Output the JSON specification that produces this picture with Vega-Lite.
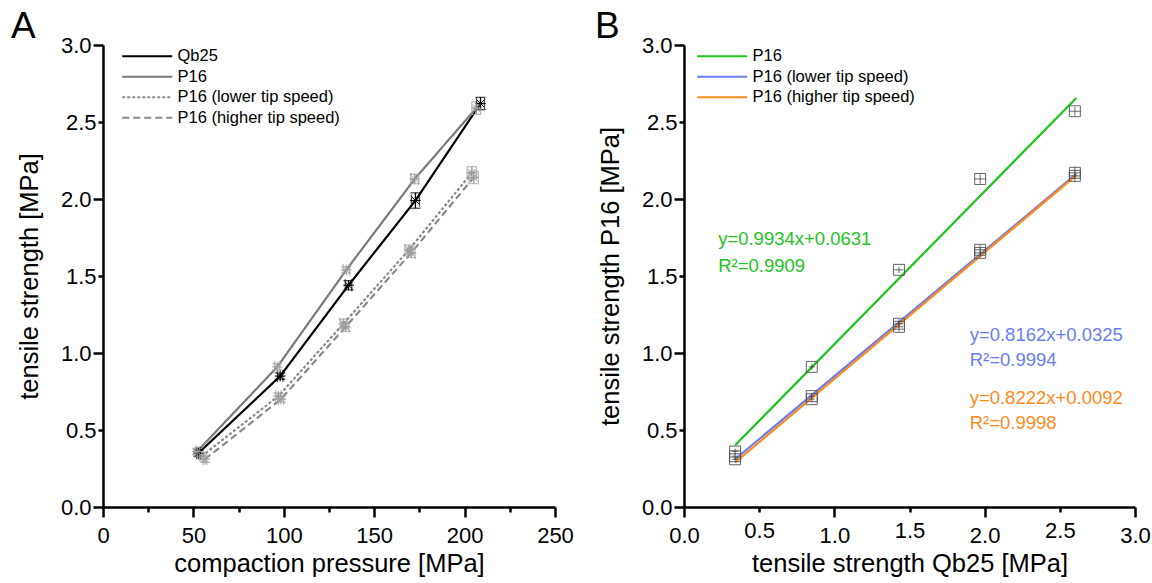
{
  "$schema": "https://vega.github.io/schema/vega-lite/v6.json",
  "background": "white",
  "padding": {"left": 11, "top": 8, "right": 0, "bottom": 0},
  "spacing": 21,
  "resolve": {"scale": {"color": "independent", "strokeDash": "independent"}, "legend": {"color": "independent", "strokeDash": "independent"}},
  "config": {
    "font": "Liberation Sans",
    "view": {"stroke": null},
    "axis": {
      "grid": false,
      "labelFlush": false,
      "domainColor": "black",
      "domainWidth": 2.5,
      "tickColor": "black",
      "tickWidth": 2.5,
      "labelFont": "Liberation Sans",
      "labelFontSize": 22,
      "labelColor": "black",
      "titleFont": "Liberation Sans",
      "titleFontSize": 25.5,
      "titleFontWeight": "normal",
      "titleColor": "black"
    },
    "legend": {
      "orient": "none",
      "symbolType": "M-5,0L5,0",
      "symbolSize": 100,
      "symbolStrokeWidth": 2,
      "labelFont": "Liberation Sans",
      "labelFontSize": 16.5,
      "labelColor": "black",
      "labelLimit": 400,
      "labelOffset": 22,
      "rowPadding": 3.5,
      "padding": 0,
      "title": null
    },
    "title": {"font": "Liberation Sans", "fontSize": 37, "fontWeight": "normal", "color": "black", "anchor": "start", "frame": "group"}
  },
  "hconcat": [
    {
      "width": 452,
      "height": 462,
      "title": {"text": "A", "dx": -92, "offset": -12},
      "data": {"values": [
        {"series": "Qb25", "p": 52.8, "plo": 51.8, "phi": 53.8, "ts": 0.35, "tlo": 0.33, "thi": 0.37},
        {"series": "Qb25", "p": 98.0, "plo": 96.5, "phi": 99.5, "ts": 0.85, "tlo": 0.83, "thi": 0.87},
        {"series": "Qb25", "p": 135.8, "plo": 134.0, "phi": 137.6, "ts": 1.44, "tlo": 1.41, "thi": 1.47},
        {"series": "Qb25", "p": 172.8, "plo": 170.6, "phi": 175.0, "ts": 1.99, "tlo": 1.94, "thi": 2.04},
        {"series": "Qb25", "p": 208.8, "plo": 206.6, "phi": 211.0, "ts": 2.62, "tlo": 2.58, "thi": 2.66},
        {"series": "P16", "p": 52.0, "plo": 51.0, "phi": 53.0, "ts": 0.36, "tlo": 0.34, "thi": 0.38},
        {"series": "P16", "p": 96.4, "plo": 94.9, "phi": 97.9, "ts": 0.91, "tlo": 0.89, "thi": 0.93},
        {"series": "P16", "p": 134.6, "plo": 132.8, "phi": 136.4, "ts": 1.54, "tlo": 1.52, "thi": 1.56},
        {"series": "P16", "p": 172.4, "plo": 170.2, "phi": 174.6, "ts": 2.13, "tlo": 2.10, "thi": 2.16},
        {"series": "P16", "p": 206.4, "plo": 204.0, "phi": 208.8, "ts": 2.59, "tlo": 2.55, "thi": 2.63},
        {"series": "P16 (lower tip speed)", "p": 54.6, "plo": 53.6, "phi": 55.6, "ts": 0.33, "tlo": 0.31, "thi": 0.35},
        {"series": "P16 (lower tip speed)", "p": 97.0, "plo": 95.5, "phi": 98.5, "ts": 0.72, "tlo": 0.70, "thi": 0.74},
        {"series": "P16 (lower tip speed)", "p": 133.0, "plo": 131.2, "phi": 134.8, "ts": 1.19, "tlo": 1.16, "thi": 1.22},
        {"series": "P16 (lower tip speed)", "p": 169.2, "plo": 167.0, "phi": 171.4, "ts": 1.67, "tlo": 1.64, "thi": 1.70},
        {"series": "P16 (lower tip speed)", "p": 204.0, "plo": 201.4, "phi": 206.6, "ts": 2.17, "tlo": 2.13, "thi": 2.21},
        {"series": "P16 (higher tip speed)", "p": 56.4, "plo": 55.4, "phi": 57.4, "ts": 0.31, "tlo": 0.29, "thi": 0.33},
        {"series": "P16 (higher tip speed)", "p": 98.4, "plo": 96.9, "phi": 99.9, "ts": 0.70, "tlo": 0.68, "thi": 0.72},
        {"series": "P16 (higher tip speed)", "p": 134.2, "plo": 132.4, "phi": 136.0, "ts": 1.17, "tlo": 1.14, "thi": 1.20},
        {"series": "P16 (higher tip speed)", "p": 170.4, "plo": 168.2, "phi": 172.6, "ts": 1.65, "tlo": 1.62, "thi": 1.68},
        {"series": "P16 (higher tip speed)", "p": 205.0, "plo": 202.4, "phi": 207.6, "ts": 2.14, "tlo": 2.10, "thi": 2.18}
      ]},
      "layer": [
        {
          "mark": {"type": "line", "strokeWidth": 2.2},
          "encoding": {
            "x": {"field": "p", "type": "quantitative", "title": "compaction pressure [MPa]",
              "scale": {"domain": [0, 250], "nice": false},
              "axis": {"values": [0, 25, 50, 75, 100, 125, 150, 175, 200, 225, 250],
                "labelExpr": "datum.value % 50 === 0 ? datum.label : ''",
                "tickSize": {"condition": {"test": "datum.value % 50 === 0", "value": 10}, "value": 5},
                "labelPadding": 8, "titlePadding": 5}},
            "y": {"field": "ts", "type": "quantitative", "title": "tensile strength [MPa]",
              "scale": {"domain": [0, 3], "nice": false},
              "axis": {"values": [0, 0.5, 1, 1.5, 2, 2.5, 3], "format": ".1f",
                "tickSize": {"condition": {"test": "datum.value % 1 === 0", "value": 10}, "value": 5},
                "labelPadding": 2, "titlePadding": 18}},
            "color": {"field": "series", "type": "nominal",
              "scale": {"domain": ["Qb25", "P16", "P16 (lower tip speed)", "P16 (higher tip speed)"],
                "range": ["#000000", "#7a7a7a", "#8a8a8a", "#8a8a8a"]},
              "legend": {"legendX": 36, "legendY": 3}},
            "strokeDash": {"field": "series", "type": "nominal",
              "scale": {"domain": ["Qb25", "P16", "P16 (lower tip speed)", "P16 (higher tip speed)"],
                "range": [[1, 0], [1, 0], [3, 2], [7, 4]]},
              "legend": {"legendX": 36, "legendY": 3}}
          }
        },
        {
          "mark": {"type": "rule", "strokeWidth": 1.3},
          "encoding": {
            "x": {"field": "p", "type": "quantitative", "title": "compaction pressure [MPa]"},
            "y": {"field": "tlo", "type": "quantitative", "title": "tensile strength [MPa]"},
            "y2": {"field": "thi"},
            "color": {"condition": {"test": "datum.series === 'Qb25'", "value": "#000000"}, "value": "#a0a0a0"}
          }
        },
        {
          "mark": {"type": "tick", "orient": "horizontal", "size": 10, "thickness": 1.3},
          "encoding": {
            "x": {"field": "p", "type": "quantitative", "title": "compaction pressure [MPa]"},
            "y": {"field": "tlo", "type": "quantitative", "title": "tensile strength [MPa]"},
            "color": {"condition": {"test": "datum.series === 'Qb25'", "value": "#000000"}, "value": "#a0a0a0"}
          }
        },
        {
          "mark": {"type": "tick", "orient": "horizontal", "size": 10, "thickness": 1.3},
          "encoding": {
            "x": {"field": "p", "type": "quantitative", "title": "compaction pressure [MPa]"},
            "y": {"field": "thi", "type": "quantitative", "title": "tensile strength [MPa]"},
            "color": {"condition": {"test": "datum.series === 'Qb25'", "value": "#000000"}, "value": "#a0a0a0"}
          }
        },
        {
          "mark": {"type": "rule", "strokeWidth": 1.3},
          "encoding": {
            "x": {"field": "plo", "type": "quantitative", "title": "compaction pressure [MPa]"},
            "x2": {"field": "phi"},
            "y": {"field": "ts", "type": "quantitative", "title": "tensile strength [MPa]"},
            "color": {"condition": {"test": "datum.series === 'Qb25'", "value": "#000000"}, "value": "#a0a0a0"}
          }
        },
        {
          "mark": {"type": "tick", "orient": "vertical", "size": 12, "thickness": 1.3},
          "encoding": {
            "x": {"field": "plo", "type": "quantitative", "title": "compaction pressure [MPa]"},
            "y": {"field": "ts", "type": "quantitative", "title": "tensile strength [MPa]"},
            "color": {"condition": {"test": "datum.series === 'Qb25'", "value": "#000000"}, "value": "#a0a0a0"}
          }
        },
        {
          "mark": {"type": "tick", "orient": "vertical", "size": 12, "thickness": 1.3},
          "encoding": {
            "x": {"field": "phi", "type": "quantitative", "title": "compaction pressure [MPa]"},
            "y": {"field": "ts", "type": "quantitative", "title": "tensile strength [MPa]"},
            "color": {"condition": {"test": "datum.series === 'Qb25'", "value": "#000000"}, "value": "#a0a0a0"}
          }
        },
        {
          "mark": {"type": "point", "shape": "M-1,0L1,0M0,-1L0,1M-0.7,-0.7L0.7,0.7M-0.7,0.7L0.7,-0.7", "filled": false, "size": 110, "strokeWidth": 1, "opacity": 1},
          "encoding": {
            "x": {"field": "p", "type": "quantitative", "title": "compaction pressure [MPa]"},
            "y": {"field": "ts", "type": "quantitative", "title": "tensile strength [MPa]"},
            "color": {"condition": {"test": "datum.series === 'Qb25'", "value": "#000000"}, "value": "#a0a0a0"}
          }
        }
      ]
    },
    {
      "width": 451,
      "height": 462,
      "title": {"text": "B", "dx": -89, "offset": -12},
      "layer": [
        {
          "data": {"values": [
            {"series": "P16", "q": 0.34, "r": 0.401},
            {"series": "P16", "q": 2.61, "r": 2.656},
            {"series": "P16 (lower tip speed)", "q": 0.34, "r": 0.310},
            {"series": "P16 (lower tip speed)", "q": 2.61, "r": 2.163},
            {"series": "P16 (higher tip speed)", "q": 0.34, "r": 0.289},
            {"series": "P16 (higher tip speed)", "q": 2.61, "r": 2.155}
          ]},
          "mark": {"type": "line", "strokeWidth": 2.2},
          "encoding": {
            "x": {"field": "q", "type": "quantitative", "title": "tensile strength Qb25 [MPa]",
              "scale": {"domain": [0, 3], "nice": false},
              "axis": {"values": [0, 0.5, 1, 1.5, 2, 2.5, 3], "format": ".1f",
                "tickSize": {"condition": {"test": "datum.value % 1 === 0", "value": 10}, "value": 5},
                "labelPadding": 8, "titlePadding": 5}},
            "y": {"field": "r", "type": "quantitative", "title": "tensile strength P16 [MPa]",
              "scale": {"domain": [0, 3], "nice": false},
              "axis": {"values": [0, 0.5, 1, 1.5, 2, 2.5, 3], "format": ".1f",
                "tickSize": {"condition": {"test": "datum.value % 1 === 0", "value": 10}, "value": 5},
                "labelPadding": 2, "titlePadding": 18}},
            "color": {"field": "series", "type": "nominal",
              "scale": {"domain": ["P16", "P16 (lower tip speed)", "P16 (higher tip speed)"],
                "range": ["#1fc41f", "#6b7cf2", "#ff8a1a"]},
              "legend": {"legendX": 30, "legendY": 3}}
          }
        },
        {
          "data": {"values": [
            {"series": "P16", "q": 0.34, "qlo": 0.32, "qhi": 0.36, "r": 0.36, "rlo": 0.34, "rhi": 0.38},
            {"series": "P16", "q": 0.85, "qlo": 0.83, "qhi": 0.87, "r": 0.91, "rlo": 0.89, "rhi": 0.93},
            {"series": "P16", "q": 1.43, "qlo": 1.40, "qhi": 1.46, "r": 1.54, "rlo": 1.52, "rhi": 1.56},
            {"series": "P16", "q": 1.97, "qlo": 1.93, "qhi": 2.01, "r": 2.13, "rlo": 2.10, "rhi": 2.16},
            {"series": "P16", "q": 2.60, "qlo": 2.56, "qhi": 2.64, "r": 2.57, "rlo": 2.54, "rhi": 2.60},
            {"series": "P16 (lower tip speed)", "q": 0.34, "qlo": 0.32, "qhi": 0.36, "r": 0.33, "rlo": 0.31, "rhi": 0.35},
            {"series": "P16 (lower tip speed)", "q": 0.85, "qlo": 0.83, "qhi": 0.87, "r": 0.72, "rlo": 0.70, "rhi": 0.74},
            {"series": "P16 (lower tip speed)", "q": 1.43, "qlo": 1.40, "qhi": 1.46, "r": 1.19, "rlo": 1.16, "rhi": 1.22},
            {"series": "P16 (lower tip speed)", "q": 1.97, "qlo": 1.93, "qhi": 2.01, "r": 1.67, "rlo": 1.64, "rhi": 1.70},
            {"series": "P16 (lower tip speed)", "q": 2.60, "qlo": 2.56, "qhi": 2.64, "r": 2.17, "rlo": 2.13, "rhi": 2.21},
            {"series": "P16 (higher tip speed)", "q": 0.34, "qlo": 0.32, "qhi": 0.36, "r": 0.31, "rlo": 0.29, "rhi": 0.33},
            {"series": "P16 (higher tip speed)", "q": 0.85, "qlo": 0.83, "qhi": 0.87, "r": 0.70, "rlo": 0.68, "rhi": 0.72},
            {"series": "P16 (higher tip speed)", "q": 1.43, "qlo": 1.40, "qhi": 1.46, "r": 1.17, "rlo": 1.14, "rhi": 1.20},
            {"series": "P16 (higher tip speed)", "q": 1.97, "qlo": 1.93, "qhi": 2.01, "r": 1.65, "rlo": 1.62, "rhi": 1.68},
            {"series": "P16 (higher tip speed)", "q": 2.60, "qlo": 2.56, "qhi": 2.64, "r": 2.15, "rlo": 2.11, "rhi": 2.19}
          ]},
          "layer": [
            {
              "mark": {"type": "rule", "strokeWidth": 1, "color": "#444444", "opacity": 0.8},
              "encoding": {
                "x": {"field": "q", "type": "quantitative", "title": "tensile strength Qb25 [MPa]"},
                "y": {"field": "rlo", "type": "quantitative", "title": "tensile strength P16 [MPa]"},
                "y2": {"field": "rhi"}
              }
            },
            {
              "mark": {"type": "rule", "strokeWidth": 1, "color": "#444444", "opacity": 0.8},
              "encoding": {
                "x": {"field": "qlo", "type": "quantitative", "title": "tensile strength Qb25 [MPa]"},
                "x2": {"field": "qhi"},
                "y": {"field": "r", "type": "quantitative", "title": "tensile strength P16 [MPa]"}
              }
            },
            {
              "mark": {"type": "point", "shape": "square", "filled": false, "size": 120, "strokeWidth": 1, "color": "#555555", "opacity": 0.9},
              "encoding": {
                "x": {"field": "q", "type": "quantitative", "title": "tensile strength Qb25 [MPa]"},
                "y": {"field": "r", "type": "quantitative", "title": "tensile strength P16 [MPa]"}
              }
            }
          ]
        },
        {
          "data": {"values": [
            {"series": "P16", "label": "y=0.9934x+0.0631", "q": 0.227, "r": 1.74},
            {"series": "P16", "label": "R²=0.9909", "q": 0.227, "r": 1.565},
            {"series": "P16 (lower tip speed)", "label": "y=0.8162x+0.0325", "q": 1.90, "r": 1.117},
            {"series": "P16 (lower tip speed)", "label": "R²=0.9994", "q": 1.90, "r": 0.955},
            {"series": "P16 (higher tip speed)", "label": "y=0.8222x+0.0092", "q": 1.90, "r": 0.708},
            {"series": "P16 (higher tip speed)", "label": "R²=0.9998", "q": 1.90, "r": 0.545}
          ]},
          "mark": {"type": "text", "align": "left", "baseline": "middle", "fontSize": 18.5, "font": "Liberation Sans"},
          "encoding": {
            "x": {"field": "q", "type": "quantitative", "title": "tensile strength Qb25 [MPa]"},
            "y": {"field": "r", "type": "quantitative", "title": "tensile strength P16 [MPa]"},
            "text": {"field": "label"},
            "color": {"field": "series", "type": "nominal", "legend": {"legendX": 30, "legendY": 3}}
          }
        }
      ]
    }
  ]
}
